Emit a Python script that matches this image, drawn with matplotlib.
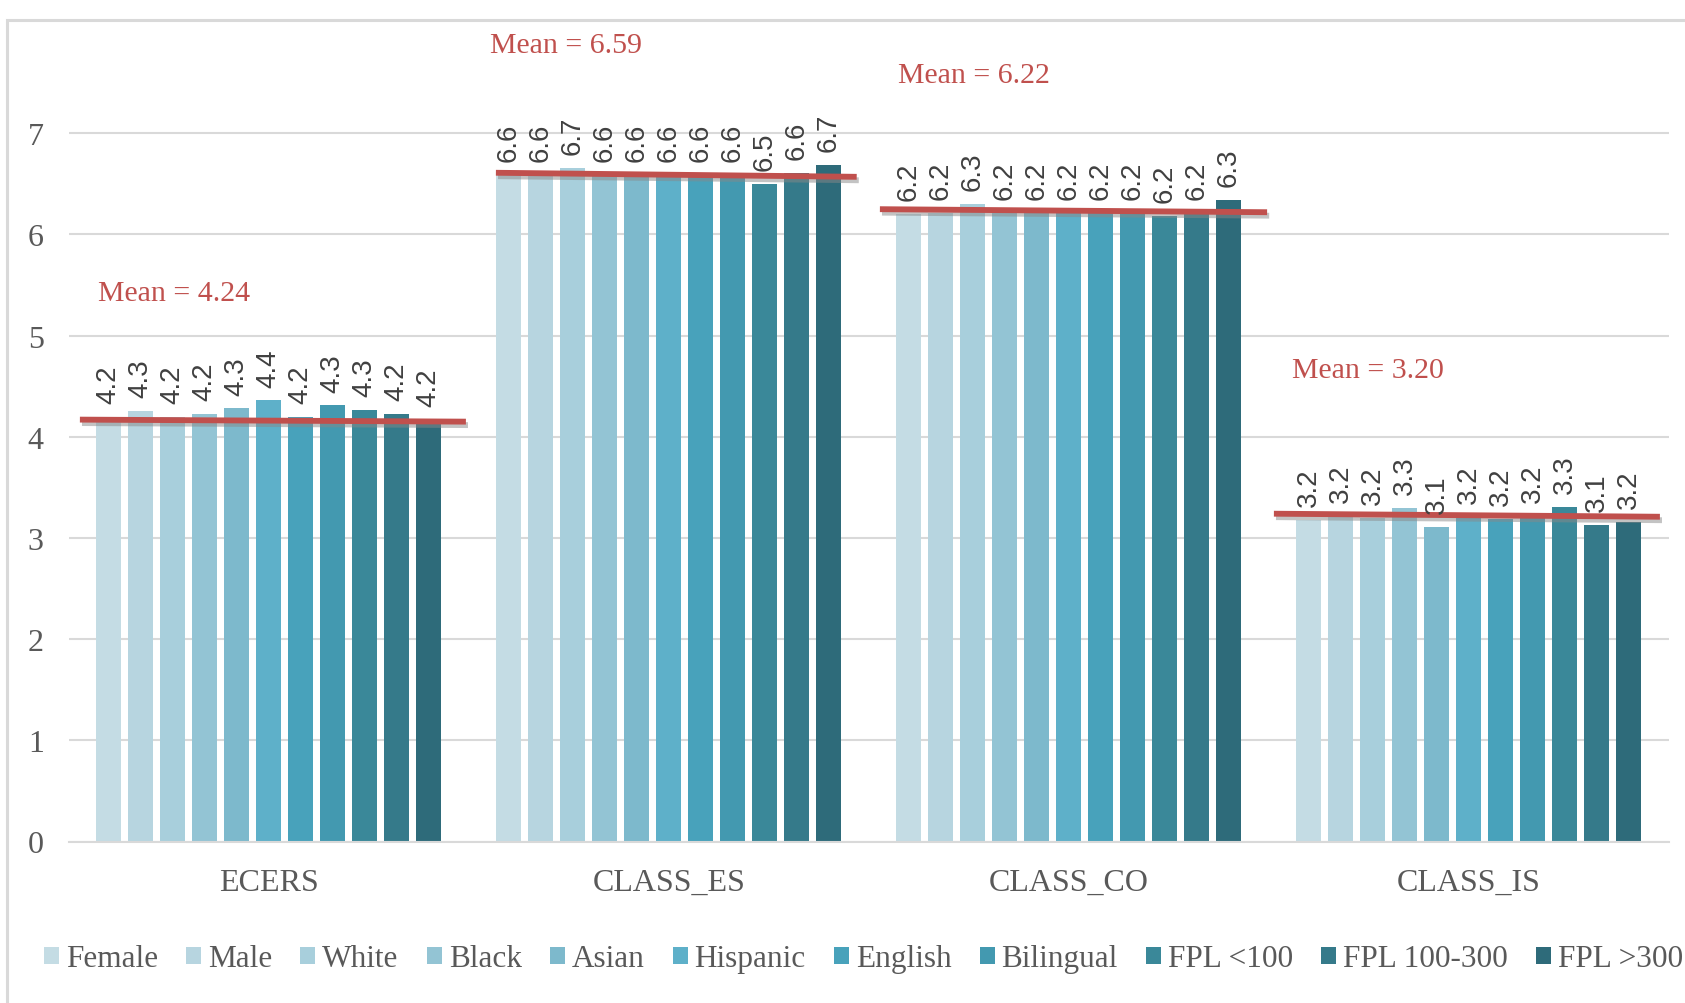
import numpy as np
import matplotlib
matplotlib.use("Agg")
import matplotlib.pyplot as plt
import matplotlib.patheffects as pe
from matplotlib.patches import Rectangle

# categories and groups
categories = ["ECERS", "CLASS_ES", "CLASS_CO", "CLASS_IS"]
groups = ["Female", "Male", "White", "Black", "Asian", "Hispanic",
          "English", "Bilingual", "FPL <100", "FPL 100-300", "FPL >300"]

# values per group, in category order
vals = {
    "Female":      [4.20, 6.59, 6.20, 3.18],
    "Male":        [4.26, 6.59, 6.21, 3.22],
    "White":       [4.20, 6.66, 6.30, 3.20],
    "Black":       [4.23, 6.59, 6.21, 3.30],
    "Asian":       [4.28, 6.59, 6.21, 3.11],
    "Hispanic":    [4.36, 6.59, 6.21, 3.21],
    "English":     [4.20, 6.59, 6.21, 3.19],
    "Bilingual":   [4.31, 6.59, 6.21, 3.22],
    "FPL <100":    [4.27, 6.50, 6.18, 3.31],
    "FPL 100-300": [4.23, 6.61, 6.21, 3.13],
    "FPL >300":    [4.17, 6.69, 6.34, 3.16],
}

colors = ["#c4dce4", "#b7d5e0", "#a8cfdc", "#93c4d4", "#7db9cc", "#5eb0c9",
          "#48a2bb", "#4399b0", "#3a8899", "#357a8a", "#2e6b7a"]

means = [4.24, 6.59, 6.22, 3.20]
# the red mean lines as drawn (x in category units, y in score units)
mean_x0 = [-0.472, 0.568, 1.528, 2.513]
mean_x1 = [0.493, 1.470, 2.496, 3.478]
mean_y0 = [4.17, 6.61, 6.25, 3.24]
mean_y1 = [4.15, 6.57, 6.22, 3.21]
# where the "Mean = " labels sit
mean_tx = [-0.427, 0.553, 1.574, 2.557]
mean_ty = [5.355, 7.80, 7.51, 4.588]

serif = ["Liberation Serif", "DejaVu Serif"]
plt.rcParams["font.family"] = serif
grey = "#595959"

W, H = 1685, 1004
fig = plt.figure(figsize=(W / 100, H / 100), dpi=100)
ax = fig.add_axes([68.7 / W, (H - 842.5) / H, 1600 / W, 842.5 / H])

# outer chart frame
fig.patches.append(Rectangle((7 / W, -0.05), 1.2, 1.05 - 21 / H,
                             transform=fig.transFigure, fill=False,
                             edgecolor="#d9d9d9", lw=2.2, zorder=0))

x = np.arange(len(categories))
pitch = 0.08
bw = 0.0625
n = len(groups)
for i, g in enumerate(groups):
    pos = x + (i - (n - 1) / 2) * pitch
    bars = ax.bar(pos, vals[g], width=bw, color=colors[i], label=g, zorder=2)
    for b, v in zip(bars, vals[g]):
        ax.annotate(f"{v:.1f}", (b.get_x() + b.get_width() / 2, v),
                    xytext=(0, 10), textcoords="offset points",
                    rotation=90, ha="center", va="bottom",
                    fontsize=20, color="#404040", zorder=4,
                    family=["Liberation Sans", "DejaVu Sans"])

shadow = [pe.SimpleLineShadow(offset=(1.5, -2.5), shadow_color="#888888", alpha=0.5),
          pe.Normal()]
for k in range(len(categories)):
    ax.plot([mean_x0[k], mean_x1[k]], [mean_y0[k], mean_y1[k]],
            color="#c0504d", lw=4.2, solid_capstyle="butt", zorder=3,
            path_effects=shadow)
    ax.text(mean_tx[k], mean_ty[k], f"Mean = {means[k]:.2f}",
            color="#c0504d", fontsize=21.5, ha="left", va="baseline")

ax.set_xlim(-0.5, 3.5)
ax.set_ylim(0, 842.5 / 101.17)
ax.set_yticks(range(8))
ax.set_xticks(x)
ax.set_xticklabels(categories)
ax.tick_params(axis="both", length=0, labelsize=23, labelcolor=grey)
ax.tick_params(axis="x", pad=19)
ax.tick_params(axis="y", pad=18)
ax.grid(axis="y", color="#d9d9d9", lw=1.5, zorder=0)
ax.set_axisbelow(True)
for s in ["top", "right", "left"]:
    ax.spines[s].set_visible(False)
ax.spines["bottom"].set_color("#d9d9d9")
ax.spines["bottom"].set_linewidth(1.5)
ax.patch.set_alpha(0)

leg = fig.legend(loc="center left", bbox_to_anchor=(44 / W, 1 - 960 / H),
                 ncol=n, frameon=False, fontsize=22.5, handlelength=0.48,
                 handleheight=0.48, handletextpad=0.22, columnspacing=0.9,
                 borderpad=0, borderaxespad=0)
for t in leg.get_texts():
    t.set_color(grey)

fig.savefig("out.png", dpi=100)
